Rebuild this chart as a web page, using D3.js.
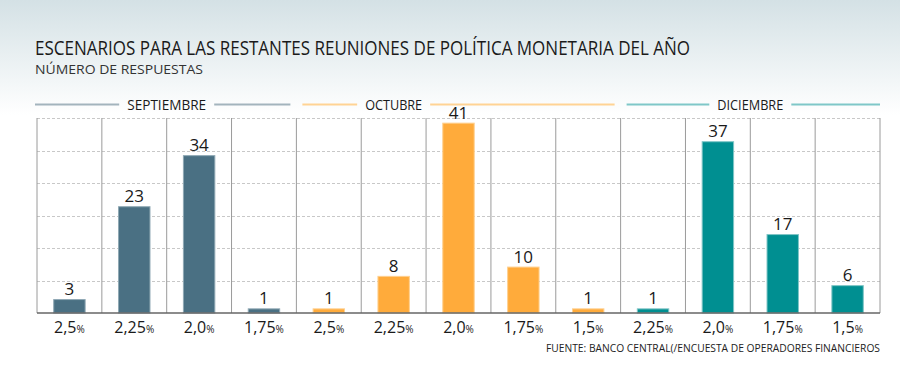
<!DOCTYPE html>
<html>
<head>
<meta charset="utf-8">
<script src="https://cdn.jsdelivr.net/npm/d3@7/dist/d3.min.js"></script>
<style>
  body { margin: 0; background: #fff; }
  svg { display: block; }
  text { font-family: "Open Sans", sans-serif; }
</style>
</head>
<body>
<div id="chart"></div>
<script>
// ---- data ----
const title = "ESCENARIOS PARA LAS RESTANTES REUNIONES DE POLÍTICA MONETARIA DEL AÑO";
const subtitle = "NÚMERO DE RESPUESTAS";
const source = "FUENTE: BANCO CENTRAL(/ENCUESTA DE OPERADORES FINANCIEROS";
const months = ["SEPTIEMBRE", "OCTUBRE", "DICIEMBRE"];
const septRates = ["2,5", "2,25", "2,0", "1,75"];
const septValues = [3, 23, 34, 1];
const octRates = ["2,5", "2,25", "2,0", "1,75", "1,5"];
const octValues = [1, 8, 41, 10, 1];
const dicRates = ["2,25", "2,0", "1,75", "1,5"];
const dicValues = [1, 37, 17, 6];
const yTicks = [7, 14, 21, 28, 35, 42];

// ---- styles ----
const colors = ["#4a7083", "#ffab3b", "#008f91"];
const edgeColors = ["#8fa8b4", "#ffd08f", "#7fc5c6"];
const headColors = ["#a3b4bd", "#ffd394", "#7fc7c8"];

const W = 900, H = 389;
const margin = { left: 37, right: 20, top: 118, bottom: 76 };
const plotBottom = H - margin.bottom; // 313

const groups = [
  { month: months[0], rates: septRates, values: septValues },
  { month: months[1], rates: octRates, values: octValues },
  { month: months[2], rates: dicRates, values: dicValues }
];
const data = [];
groups.forEach((g, gi) => g.rates.forEach((r, i) =>
  data.push({ key: gi + "-" + i, rate: r, value: g.values[i], group: gi })));

const svg = d3.select("#chart").append("svg").attr("width", W).attr("height", H);

const defs = svg.append("defs");
const grad = defs.append("linearGradient").attr("id", "bg")
  .attr("x1", 0).attr("y1", 0).attr("x2", 0).attr("y2", 1);
grad.append("stop").attr("offset", "0%").attr("stop-color", "#d4e1e5");
grad.append("stop").attr("offset", "100%").attr("stop-color", "#ffffff");
svg.append("rect").attr("width", W).attr("height", 115).attr("fill", "url(#bg)");

const x = d3.scaleBand().domain(data.map(d => d.key))
  .range([margin.left, W - margin.right]).paddingInner(0.5).paddingOuter(0.25);
const y = d3.scaleLinear().domain([0, 42]).range([plotBottom, margin.top]);
const step = x.step();

// title
svg.append("text").attr("x", 35).attr("y", 55)
  .attr("font-size", 20).attr("fill", "#1a1a1a")
  .attr("textLength", 655).attr("lengthAdjust", "spacingAndGlyphs")
  .text(title);
svg.append("text").attr("x", 35).attr("y", 74)
  .attr("font-size", 12.5).attr("fill", "#333")
  .attr("textLength", 168).attr("lengthAdjust", "spacingAndGlyphs")
  .text(subtitle);

// horizontal dashed gridlines
svg.append("g").selectAll("line").data(yTicks).join("line")
  .attr("x1", margin.left).attr("x2", W - margin.right)
  .attr("y1", d => Math.round(y(d)) + 0.5).attr("y2", d => Math.round(y(d)) + 0.5)
  .attr("stroke", "#c8c8c8").attr("stroke-dasharray", "3,2");

// vertical column separators
const bounds = d3.range(data.length + 1).map(i => margin.left + i * step);
svg.append("g").selectAll("line").data(bounds).join("line")
  .attr("x1", d => d).attr("x2", d => d)
  .attr("y1", y(42)).attr("y2", plotBottom)
  .attr("stroke", "#9a9a9a").attr("stroke-width", 1);

// bars
svg.append("g").selectAll("rect").data(data).join("rect")
  .attr("x", d => x(d.key) + 0.5)
  .attr("y", d => y(d.value) + 0.5)
  .attr("width", x.bandwidth() - 1)
  .attr("height", d => plotBottom - y(d.value) - 0.5)
  .attr("fill", d => colors[d.group])
  .attr("stroke", d => edgeColors[d.group]).attr("stroke-width", 1);

// value labels
svg.append("g").selectAll("text").data(data).join("text")
  .attr("x", d => x(d.key) + x.bandwidth() / 2)
  .attr("y", d => y(d.value) - 4)
  .attr("text-anchor", "middle").attr("font-size", 17).attr("fill", "#1a1a1a")
  .text(d => d.value);

// baseline
svg.append("line").attr("x1", margin.left).attr("x2", W - margin.right)
  .attr("y1", plotBottom).attr("y2", plotBottom)
  .attr("stroke", "#666").attr("stroke-width", 1.5);

// x labels
const xl = svg.append("g").selectAll("text").data(data).join("text")
  .attr("x", d => x(d.key) + x.bandwidth() / 2)
  .attr("y", 333).attr("text-anchor", "middle").attr("fill", "#1a1a1a")
  .attr("font-size", 16);
xl.append("tspan").text(d => d.rate);
xl.append("tspan").attr("font-size", 10).text("%");

// month headers
let start = 0;
const headY = 104.5;
const labelOffsets = [0.5, 0.3, 0.5]; // label centre as fraction of group span
const labelWidths = [79, 57, 66];
groups.forEach((g, gi) => {
  const n = g.rates.length;
  const x0 = margin.left + start * step;
  const x1 = margin.left + (start + n) * step;
  const lx0 = x0 + (gi === 0 ? -2 : 6);
  const lx1 = x1 - (gi === 2 ? 0 : 6);
  const cx = x0 + (x1 - x0) * labelOffsets[gi];
  const half = labelWidths[gi] / 2 + 8;
  svg.append("line").attr("x1", lx0).attr("x2", cx - half)
    .attr("y1", headY).attr("y2", headY).attr("stroke", headColors[gi]).attr("stroke-width", 2);
  svg.append("line").attr("x1", cx + half).attr("x2", lx1)
    .attr("y1", headY).attr("y2", headY).attr("stroke", headColors[gi]).attr("stroke-width", 2);
  svg.append("text").attr("x", cx - labelWidths[gi] / 2).attr("y", 110)
    .attr("font-size", 15).attr("fill", "#1a1a1a")
    .attr("textLength", labelWidths[gi]).attr("lengthAdjust", "spacingAndGlyphs")
    .text(g.month);
  start += n;
});

// source
svg.append("text").attr("x", 880).attr("y", 352).attr("text-anchor", "end")
  .attr("font-size", 10).attr("fill", "#222")
  .attr("textLength", 334).attr("lengthAdjust", "spacingAndGlyphs")
  .text(source);
</script>
</body>
</html>
